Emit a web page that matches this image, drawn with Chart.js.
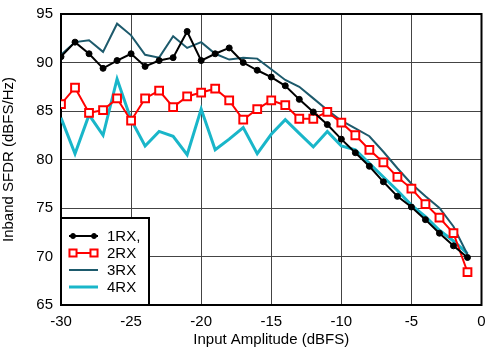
<!DOCTYPE html>
<html>
<head>
<meta charset="utf-8">
<script src="https://cdn.jsdelivr.net/npm/chart.js@4/dist/chart.umd.min.js"></script>
<style>
	html, body { margin: 0; padding: 0; background: #fff; }
	#wrap { width: 489px; height: 349px; }
</style>
</head>
<body>
<div id="wrap"><canvas id="myChart" width="489" height="349"></canvas></div>
<script>
const xVals = [-30, -29, -28, -27, -26, -25, -24, -23, -22, -21, -20, -19, -18, -17, -16, -15, -14, -13, -12, -11, -10, -9, -8, -7, -6, -5, -4, -3, -2, -1]
const rx1 = [90.6, 92.1, 90.9, 89.4, 90.2, 90.9, 89.6, 90.2, 90.5, 93.2, 90.2, 90.9, 91.5, 90.0, 89.2, 88.5, 87.6, 86.2, 84.9, 83.6, 82.1, 80.7, 79.3, 77.7, 76.2, 75.1, 73.8, 72.4, 71.1, 69.9]
const rx2 = [85.7, 87.4, 84.8, 85.1, 86.3, 84.0, 86.3, 87.1, 85.4, 86.5, 86.9, 87.3, 86.1, 84.1, 85.2, 86.1, 85.6, 84.2, 84.2, 84.9, 83.8, 82.5, 81.0, 79.7, 78.2, 77.0, 75.4, 74.0, 72.4, 68.4]
const rx3 = [90.8, 92.1, 92.3, 91.1, 94.0, 92.8, 90.8, 90.5, 92.7, 91.5, 92.1, 90.9, 90.3, 90.5, 90.4, 89.3, 88.2, 87.5, 86.3, 85.1, 84.0, 83.2, 82.4, 80.8, 79.1, 77.5, 76.2, 75.0, 73.1, 70.2]
const rx4 = [84.3, 80.6, 84.6, 82.5, 88.3, 84.1, 81.4, 82.9, 82.4, 80.5, 85.2, 81.0, 82.1, 83.3, 80.6, 82.6, 84.1, 82.7, 81.3, 82.9, 81.4, 81.0, 79.6, 78.2, 76.8, 75.3, 74.1, 72.7, 71.6, 70.3]
const seriesNames = ['1RX,', '2RX', '3RX', '4RX']

const FONT = 'Liberation Sans, Arial, Helvetica, sans-serif'
const pts = (arr) => arr.map((v, i) => ({ x: xVals[i], y: v }))

// frame + legend box drawn by hand, the library legend is too different
const framePlugin = {
	id: 'frame',
	beforeDatasetsDraw(chart) {
		const { ctx, chartArea: a } = chart
		ctx.save()
		ctx.strokeStyle = '#000'
		ctx.lineWidth = 2
		ctx.strokeRect(a.left, a.top, a.right - a.left, a.bottom - a.top)
		ctx.restore()
	},
	afterDraw(chart) {
		const { ctx, chartArea: a } = chart
		const bx = a.left, by = a.bottom - 87, bw = 88, bh = 87
		ctx.save()
		ctx.fillStyle = '#fff'
		ctx.fillRect(bx, by, bw, bh)
		ctx.strokeStyle = '#000'
		ctx.lineWidth = 2
		ctx.strokeRect(bx, by, bw, bh)
		ctx.font = '15px ' + FONT
		ctx.textBaseline = 'middle'
		chart.data.datasets.forEach((ds, i) => {
			const y = by + 18 + i * 17
			ctx.strokeStyle = ds.borderColor
			ctx.lineWidth = ds.borderWidth
			ctx.beginPath()
			ctx.moveTo(bx + 8, y)
			ctx.lineTo(bx + 37, y)
			ctx.stroke()
			if (ds.pointRadius > 0) {
				;[bx + 12, bx + 33].forEach((px) => {
					ctx.fillStyle = ds.pointBackgroundColor
					ctx.strokeStyle = ds.pointBorderColor
					ctx.lineWidth = ds.pointBorderWidth
					Chart.helpers.drawPoint(ctx, {
						pointStyle: ds.pointStyle,
						radius: ds.pointRadius - 0.5,
						borderWidth: ds.pointBorderWidth,
						rotation: 0,
					}, px, y)
				})
			}
			ctx.fillStyle = '#000'
			ctx.fillText(ds.label, bx + 46, y + 1)
		})
		ctx.restore()
	},
}

var ctx = document.getElementById('myChart').getContext('2d')
var myChart = new Chart(ctx, {
	type: 'line',
	data: {
		datasets: [
			{
				label: seriesNames[0],
				data: pts(rx1),
				borderColor: '#000',
				backgroundColor: '#000',
				borderWidth: 2,
				pointStyle: 'circle',
				pointRadius: 3,
				pointBorderWidth: 1,
				pointBackgroundColor: '#000',
				pointBorderColor: '#000',
			},
			{
				label: seriesNames[1],
				data: pts(rx2),
				borderColor: '#ff0000',
				backgroundColor: '#fff',
				borderWidth: 2,
				pointStyle: 'rect',
				pointRadius: 5.5,
				pointBorderWidth: 2,
				pointBackgroundColor: '#fff',
				pointBorderColor: '#ff0000',
			},
			{
				label: seriesNames[2],
				data: pts(rx3),
				borderColor: '#1d5a6c',
				backgroundColor: '#1d5a6c',
				borderWidth: 2,
				pointRadius: 0,
			},
			{
				label: seriesNames[3],
				data: pts(rx4),
				borderColor: '#19b6c9',
				backgroundColor: '#19b6c9',
				borderWidth: 3,
				pointRadius: 0,
			},
		],
	},
	options: {
		responsive: false,
		animation: false,
		layout: { padding: { left: 0, right: 1, top: 14, bottom: 0 } },
		elements: { line: { tension: 0 } },
		plugins: { legend: { display: false }, tooltip: { enabled: false } },
		scales: {
			x: {
				type: 'linear',
				min: -30,
				max: 0,
				ticks: { stepSize: 5, color: '#000', font: { family: FONT, size: 15 }, padding: 8, maxRotation: 0 },
				grid: { color: '#444', lineWidth: 1, drawTicks: false },
				border: { display: false },
				title: { display: true, text: 'Input Amplitude (dBFS)', color: '#000', font: { family: FONT, size: 15 }, padding: { top: 0, bottom: 0 } },
				afterFit: (scale) => {
					scale.height = 44
					scale.paddingLeft = 0
					scale.paddingRight = 0
				},
			},
			y: {
				min: 65,
				max: 95,
				ticks: { stepSize: 5, color: '#000', font: { family: FONT, size: 15 }, padding: 8 },
				grid: { color: '#444', lineWidth: 1, drawTicks: false },
				border: { display: false },
				title: { display: true, text: 'Inband SFDR (dBFS/Hz)', color: '#000', font: { family: FONT, size: 15 }, padding: { top: 0, bottom: 1 } },
				afterFit: (scale) => {
					scale.width = 61
					scale.paddingTop = 0
					scale.paddingBottom = 0
				},
			},
		},
	},
	plugins: [framePlugin],
})
</script>
</body>
</html>
